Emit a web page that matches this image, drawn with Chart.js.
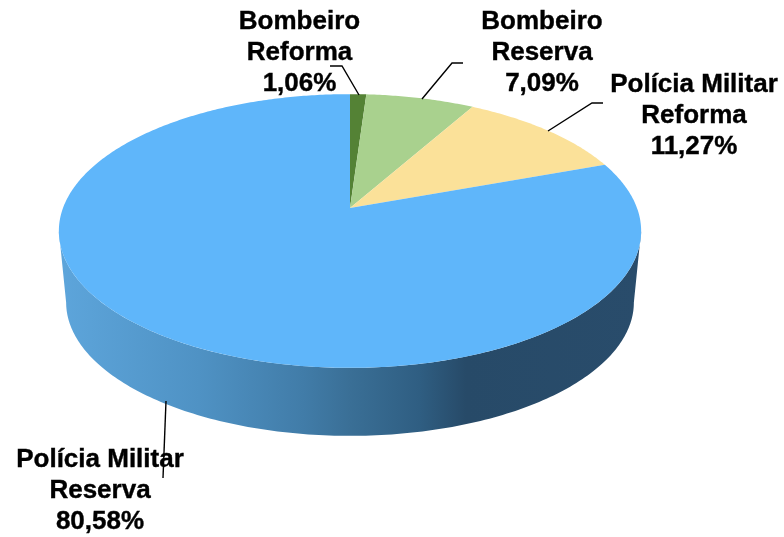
<!DOCTYPE html>
<html>
<head>
<meta charset="utf-8">
<title>Pie</title>
<script src="https://cdn.jsdelivr.net/npm/chart.js@4/dist/chart.umd.min.js"></script>
<style>
  html, body { margin: 0; padding: 0; background: #fff; }
  canvas { display: block; }
</style>
</head>
<body>
<canvas id="myChart" width="784" height="537"></canvas>
<script>
const categories = ['Bombeiro Reforma', 'Bombeiro Reserva', 'Polícia Militar Reforma', 'Polícia Militar Reserva'];
const categoryLines = [['Bombeiro', 'Reforma'], ['Bombeiro', 'Reserva'], ['Polícia Militar', 'Reforma'], ['Polícia Militar', 'Reserva']];
const values = [1.06, 7.09, 11.27, 80.58];
const colors = ['#548235', '#a9d18e', '#fbe199', '#5fb6fa'];

// layout of the labels and the leader lines
const labelX = [299.5, 542, 694, 100];
const labelY = [29, 29, 91.5, 467];
const leaders = [
  [[330, 66], [342, 66], [359, 95]],
  [[422, 99], [452, 63], [463, 63]],
  [[548, 131], [592, 103], [603, 103]],
  [[166, 401], [163, 478]]
];

// the top of the pie is seen in perspective, so the apex is not the middle of the ellipse
const CX = 350, CY = 208, TILT = 0.168, RX = 287, RY = 133;
const WALL_DROP = 72, WALL_SCALE = 0.975;

const project = (angle, drop, scale) => {
  const u = Math.cos(angle), v = Math.sin(angle);
  const w = 1 - TILT * v;
  return [CX + RX * scale * u / w, CY + drop + RY * scale * v / w];
};

const wallPlugin = {
  id: 'wall',
  beforeDatasetDraw(chart) {
    const ctx = chart.ctx;
    const grad = ctx.createLinearGradient(60, 0, 640, 0);
    grad.addColorStop(0, '#5da5db');
    grad.addColorStop(0.24, '#4f92c4');
    grad.addColorStop(0.42, '#417ca8');
    grad.addColorStop(0.5, '#3a6f96');
    grad.addColorStop(0.62, '#2f5e82');
    grad.addColorStop(0.7, '#274a68');
    grad.addColorStop(1, '#294c6b');

    // rim of the top disc from left to right along the front, then back along the lower disc
    const start = Math.PI - Math.asin(TILT);
    const end = Math.asin(TILT);
    ctx.save();
    ctx.beginPath();
    for (let i = 0; i <= 180; i++) {
      const p = project(start + (end - start) * i / 180, 0, 1);
      ctx.lineTo(p[0], p[1]);
    }
    for (let i = 180; i >= 0; i--) {
      const p = project(start + (end - start) * i / 180, WALL_DROP, WALL_SCALE);
      ctx.lineTo(p[0], p[1]);
    }
    ctx.closePath();
    ctx.fillStyle = grad;
    ctx.fill();
    ctx.restore();
  }
};

const tiltPlugin = {
  id: 'tilt',
  // the slices keep the angles worked out by the library, only the shape is projected
  beforeDatasetDraw(chart) {
    const ctx = chart.ctx;
    chart.getDatasetMeta(0).data.forEach((arc, i) => {
      const steps = Math.max(2, Math.ceil((arc.endAngle - arc.startAngle) * 90));
      ctx.beginPath();
      ctx.moveTo(CX, CY);
      for (let s = 0; s <= steps; s++) {
        const p = project(arc.startAngle + (arc.endAngle - arc.startAngle) * s / steps, 0, 1);
        ctx.lineTo(p[0], p[1]);
      }
      ctx.closePath();
      ctx.fillStyle = colors[i];
      ctx.fill();
    });
    return false;
  },
  afterDraw(chart) {
    const ctx = chart.ctx;
    ctx.save();
    ctx.fillStyle = '#000';
    ctx.strokeStyle = '#000';
    ctx.font = 'bold 26px "Liberation Sans", Arial, sans-serif';
    ctx.textAlign = 'center';
    ctx.textBaseline = 'alphabetic';
    ctx.lineWidth = 0.4;
    values.forEach((val, i) => {
      const lines = categoryLines[i].concat(val.toFixed(2).replace('.', ',') + '%');
      lines.forEach((line, n) => {
        ctx.fillText(line, labelX[i], labelY[i] + n * 31);
        ctx.strokeText(line, labelX[i], labelY[i] + n * 31);
      });
    });
    ctx.lineWidth = 1.4;
    leaders.forEach((pts) => {
      ctx.beginPath();
      pts.forEach((p) => ctx.lineTo(p[0], p[1]));
      ctx.stroke();
    });
    ctx.restore();
  }
};

new Chart(document.getElementById('myChart'), {
  type: 'pie',
  data: {
    labels: categories,
    datasets: [{ data: values, backgroundColor: colors, borderWidth: 0 }]
  },
  options: {
    responsive: false,
    animation: false,
    events: [],
    plugins: { legend: { display: false }, tooltip: { enabled: false } }
  },
  plugins: [wallPlugin, tiltPlugin]
});
</script>
</body>
</html>
